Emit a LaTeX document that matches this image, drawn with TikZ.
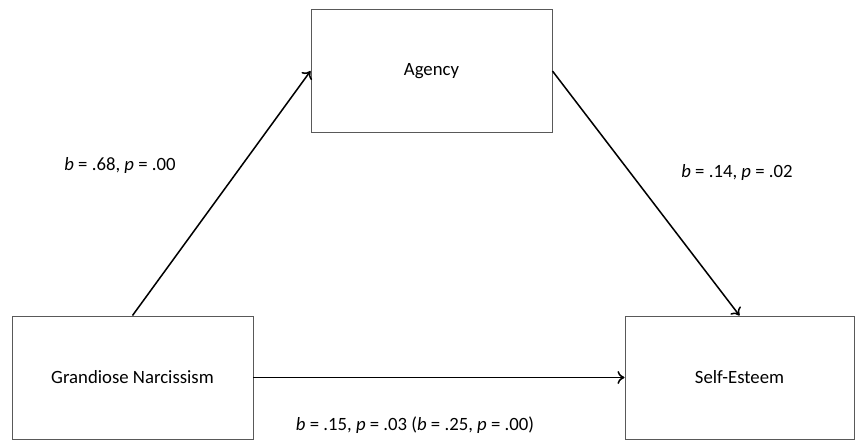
\documentclass[tikz,border=0pt]{standalone}
\usepackage{fontspec}
\setmainfont{Carlito}
\usetikzlibrary{arrows.meta}

\begin{document}
\begin{tikzpicture}[x=0.03cm, y=-0.03cm, font=\fontsize{16}{19}\selectfont,
                    var node/.style={draw=black!65, line width=0.8pt, fill=white,
                                     minimum width=7.23cm, minimum height=3.69cm, inner sep=0pt},
                    path arrow/.style={draw, line width=1.3pt, -{To[length=6pt,width=11pt]}}]

  \useasboundingbox (0,0) rectangle (856,441);

  \node[var node] (agency) at (431.5, 71) {Agency};
  \node[var node] (gn) at (132.5, 377.5) {Grandiose Narcissism};
  \node[var node, minimum width=6.87cm] (se) at (739.5, 377.5) {Self-Esteem};

  \path[every edge/.style={path arrow}]
  (gn.north) edge (agency.west)
  (agency.east) edge (se.north)
  (gn.east) edge (se.west);

  \node (a) at (120, 165) {\textit{b} = .68, \textit{p} = .00};
  \node (b) at (737, 172) {\textit{b} = .14, \textit{p} = .02};
  \node (c) at (415, 425) {\textit{b} = .15, \textit{p} = .03 (\textit{b} = .25, \textit{p} = .00)};

\end{tikzpicture}
\end{document}
